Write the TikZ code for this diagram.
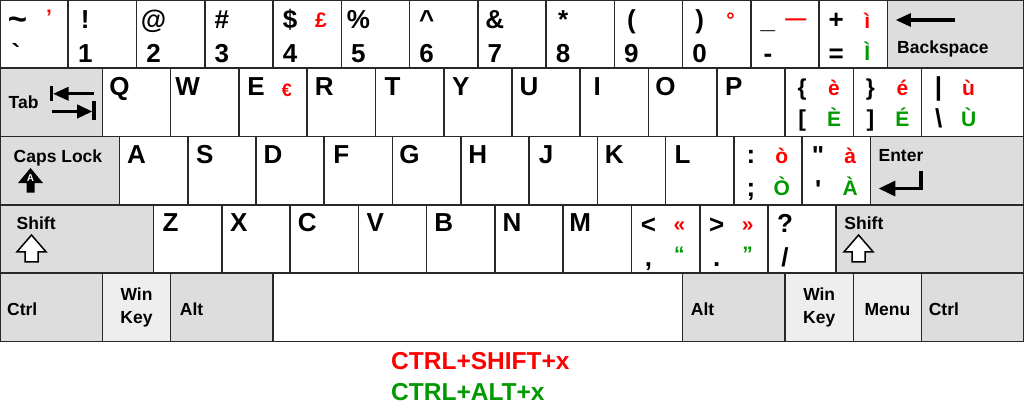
\documentclass[tikz,border=0pt]{standalone}
\usepackage{fontspec}
\setmainfont{Liberation Sans}
\usetikzlibrary{calc}
\definecolor{kred}{RGB}{255,0,0}
\definecolor{kgrn}{RGB}{0,153,0}
\definecolor{kmod}{RGB}{221,221,221}
\definecolor{klt}{RGB}{238,238,238}
\definecolor{kline}{RGB}{40,40,40}
\def\U{68.2667}
\newcommand\kl[5]{\node[#1] (#2-#3) at ($(#2.north west)+(#4)$) {#5};}
\begin{document}
\begin{tikzpicture}[x=1pt,y=-1pt,
  keybox/.style={draw=kline,line width=1.6pt,fill=white,rectangle,inner sep=0pt,outer sep=0pt,anchor=north west,minimum height=68.2667pt},
  modk/.style={fill=kmod}, ltk/.style={fill=klt},
  big/.style={font=\fontsize{26}{26}\selectfont\bfseries,anchor=base,inner sep=0pt},
  sml/.style={font=\fontsize{21}{21}\selectfont\bfseries,anchor=base,inner sep=0pt},
  brk/.style={font=\fontsize{23}{23}\selectfont\bfseries,anchor=base,inner sep=0pt},
  rd/.style={sml,text=kred}, gr/.style={sml,text=kgrn},
  modt/.style={font=\fontsize{17.5}{17.5}\selectfont\bfseries,anchor=base west,inner sep=0pt},
  modc/.style={modt,anchor=base},
  legt/.style={font=\fontsize{24.5}{24.5}\selectfont\bfseries,anchor=base west,inner sep=0pt},
  hollow/.style={draw=black,line width=1.5pt,fill=white,line join=miter}
]
\useasboundingbox[fill=white] (0,0) rectangle (1024,405);

% ---------- row 1
\foreach \i in {0,...,12} {\node[keybox,minimum width=68.2667pt] (r1k\i) at (\i*\U,0) {};}
\node[keybox,modk,minimum width=136.533pt] (bksp) at (887.467,0) {};
% ---------- row 2
\node[keybox,modk,minimum width=102.4pt] (tab) at (0,68.2667) {};
\foreach \i in {0,...,11} {\node[keybox,minimum width=68.2667pt] (r2k\i) at (102.4+\i*\U,68.2667) {};}
\node[keybox,minimum width=102.4pt] (pipe) at (921.6,68.2667) {};
% ---------- row 3
\node[keybox,modk,minimum width=119.467pt] (caps) at (0,136.533) {};
\foreach \i in {0,...,10} {\node[keybox,minimum width=68.2667pt] (r3k\i) at (119.467+\i*\U,136.533) {};}
\node[keybox,modk,minimum width=153.6pt] (enter) at (870.4,136.533) {};
% ---------- row 4
\node[keybox,modk,minimum width=153.6pt] (lshift) at (0,204.8) {};
\foreach \i in {0,...,9} {\node[keybox,minimum width=68.2667pt] (r4k\i) at (153.6+\i*\U,204.8) {};}
\node[keybox,modk,minimum width=187.733pt] (rshift) at (836.267,204.8) {};
% ---------- row 5
\node[keybox,modk,minimum width=102.4pt] (lctrl) at (0,273.067) {};
\node[keybox,ltk,minimum width=68.2667pt] (lwin) at (102.4,273.067) {};
\node[keybox,modk,minimum width=102.4pt] (lalt) at (170.667,273.067) {};
\node[keybox,minimum width=409.6pt] (space) at (273.067,273.067) {};
\node[keybox,modk,minimum width=102.4pt] (ralt) at (682.667,273.067) {};
\node[keybox,ltk,minimum width=68.2667pt] (rwin) at (785.067,273.067) {};
\node[keybox,ltk,minimum width=68.2667pt] (menu) at (853.333,273.067) {};
\node[keybox,modk,minimum width=102.4pt] (rctrl) at (921.6,273.067) {};

% ---------- row 1 labels
\kl{big}{r1k0}{a}{17.5,30}{\fontsize{33}{33}\selectfont\textasciitilde}
\kl{big}{r1k0}{b}{16,62}{\textasciigrave}
\kl{rd}{r1k0}{c}{49,24}{’}
\kl{big}{r1k1}{a}{17,28}{!}
\kl{big}{r1k1}{b}{17,62}{1}
\kl{big}{r1k2}{a}{17,28}{@}
\kl{big}{r1k2}{b}{17,62}{2}
\kl{big}{r1k3}{a}{17,28}{\#}
\kl{big}{r1k3}{b}{17,62}{3}
\kl{big}{r1k4}{a}{17,28}{\$}
\kl{big}{r1k4}{b}{17,62}{4}
\kl{rd}{r1k4}{c}{48,27}{£}
\kl{big}{r1k5}{a}{17,28}{\%}
\kl{big}{r1k5}{b}{17,62}{5}
\kl{big}{r1k6}{a}{17,28}{\textasciicircum}
\kl{big}{r1k6}{b}{17,62}{6}
\kl{big}{r1k7}{a}{17,28}{\&}
\kl{big}{r1k7}{b}{17,62}{7}
\kl{big}{r1k8}{a}{17,28}{*}
\kl{big}{r1k8}{b}{17,62}{8}
\kl{big}{r1k9}{a}{17,28}{(}
\kl{big}{r1k9}{b}{17,62}{9}
\kl{big}{r1k10}{a}{17,28}{)}
\kl{big}{r1k10}{b}{17,62}{0}
\kl{rd}{r1k10}{c}{48,27}{°}
\kl{big}{r1k11}{a}{17,28}{\_}
\kl{big}{r1k11}{b}{17,62}{-}
\kl{rd}{r1k11}{c}{45,25}{—}
\kl{big}{r1k12}{a}{17,28}{+}
\kl{big}{r1k12}{b}{17,62}{=}
\kl{rd}{r1k12}{c}{48,28}{ì}
\kl{gr}{r1k12}{d}{48,60}{Ì}
\kl{modt}{bksp}{a}{9.5,53.3}{Backspace}
\begin{scope}[shift={(bksp.north west)}]
  \fill (8.5,20) -- (23.5,13) -- (23.5,27) -- cycle;
  \fill (22,18.3) rectangle (67.5,21.7);
\end{scope}

% ---------- row 2 labels
\kl{modt}{tab}{a}{8.5,40.5}{Tab}
\begin{scope}[shift={(tab.north west)}]
  \fill (50,18) rectangle (53.3,33);
  \fill (53.3,25.5) -- (68.5,18.5) -- (68.5,32.5) -- cycle;
  \fill (68,24.2) rectangle (94,26.8);
  \fill (52,41.9) rectangle (78,44.5);
  \fill (92,43.2) -- (77,36) -- (77,50.4) -- cycle;
  \fill (92,33) rectangle (95.5,52);
\end{scope}
\foreach \i/\c in {0/Q,1/W,2/E,3/R,4/T,5/Y,6/U,7/I,8/O,9/P} {\kl{big}{r2k\i}{a}{17,27}{\c}}
\kl{rd}{r2k2}{b}{48,28}{\fontsize{18}{18}\selectfont €}
\kl{brk}{r2k10}{b}{17,27}{\{}
\kl{brk}{r2k10}{c}{17,58.5}{[}
\kl{rd}{r2k10}{d}{49,27}{è}
\kl{gr}{r2k10}{e}{49,58.5}{È}
\kl{brk}{r2k11}{b}{17,27}{\}}
\kl{brk}{r2k11}{c}{17,58.5}{]}
\kl{rd}{r2k11}{d}{49,27}{é}
\kl{gr}{r2k11}{e}{49,58.5}{É}
\kl{big}{pipe}{a}{17,27}{|}
\kl{big}{pipe}{b}{17,59}{\textbackslash}
\kl{rd}{pipe}{c}{47,27}{ù}
\kl{gr}{pipe}{d}{47,58.5}{Ù}

% ---------- row 3 labels
\kl{modt}{caps}{a}{13.5,26.2}{Caps Lock}
\begin{scope}[shift={(caps.north west)}]
  \fill (30.5,31.5) -- (43,46.5) -- (34.5,46.5) -- (34.5,56) -- (26.5,56) -- (26.5,46.5) -- (18,46.5) -- cycle;
  \node[font=\fontsize{10}{10}\selectfont\bfseries,text=white,inner sep=0pt] (capsA) at (30.5,41.5) {A};
\end{scope}
\foreach \i/\c in {0/A,1/S,2/D,3/F,4/G,5/H,6/J,7/K,8/L} {\kl{big}{r3k\i}{a}{17,27}{\c}}
\kl{big}{r3k9}{a}{17,27}{:}
\kl{big}{r3k9}{b}{17,60}{;}
\kl{rd}{r3k9}{c}{48,27}{ò}
\kl{gr}{r3k9}{d}{48,59}{Ò}
\kl{big}{r3k10}{a}{16,28}{\textquotedbl}
\kl{big}{r3k10}{b}{16,62}{\textquotesingle}
\kl{rd}{r3k10}{c}{48,27}{à}
\kl{gr}{r3k10}{d}{48,59}{À}
\kl{modt}{enter}{a}{8,24.5}{Enter}
\begin{scope}[shift={(enter.north west)}]
  \draw[line width=3.3pt,line join=miter] (50.6,34.5) -- (50.6,52) -- (24,52);
  \fill (8.5,52) -- (25,44) -- (25,60) -- cycle;
\end{scope}

% ---------- row 4 labels
\kl{modt}{lshift}{a}{16.5,24.2}{Shift}
\begin{scope}[shift={(lshift.north west)}]
  \draw[hollow] (31.5,30.2) -- (46,47) -- (38,47) -- (38,57) -- (25,57) -- (25,47) -- (17,47) -- cycle;
\end{scope}
\foreach \i/\c in {0/Z,1/X,2/C,3/V,4/B,5/N,6/M} {\kl{big}{r4k\i}{a}{17,27}{\c}}
\kl{big}{r4k7}{a}{17,28.5}{<}
\kl{big}{r4k7}{b}{17,61.5}{,}
\kl{rd}{r4k7}{c}{48,27}{«}
\kl{gr}{r4k7}{d}{48,57}{“}
\kl{big}{r4k8}{a}{17,28.5}{>}
\kl{big}{r4k8}{b}{17,61.5}{.}
\kl{rd}{r4k8}{c}{48,27}{»}
\kl{gr}{r4k8}{d}{48,57}{”}
\kl{big}{r4k9}{a}{17,28}{?}
\kl{big}{r4k9}{b}{17,62}{/}
\kl{modt}{rshift}{a}{8,24.2}{Shift}
\begin{scope}[shift={(rshift.north west)}]
  \draw[hollow] (22.3,30.2) -- (36.8,47) -- (28.8,47) -- (28.8,57) -- (15.8,57) -- (15.8,47) -- (7.8,47) -- cycle;
\end{scope}

% ---------- row 5 labels
\kl{modt}{lctrl}{a}{7,42}{Ctrl}
\kl{modc}{lwin}{a}{34.13,27}{Win}
\kl{modc}{lwin}{b}{34.13,50.3}{Key}
\kl{modt}{lalt}{a}{9,42}{Alt}
\kl{modt}{ralt}{a}{8,42}{Alt}
\kl{modc}{rwin}{a}{34.13,27}{Win}
\kl{modc}{rwin}{b}{34.13,50.3}{Key}
\kl{modc}{menu}{a}{34.13,42}{Menu}
\kl{modt}{rctrl}{a}{7,42}{Ctrl}

% ---------- legend
\node[legt,text=kred] (leg1) at (391,369) {CTRL+SHIFT+x};
\node[legt,text=kgrn] (leg2) at (391,400) {CTRL+ALT+x};
\end{tikzpicture}
\end{document}
